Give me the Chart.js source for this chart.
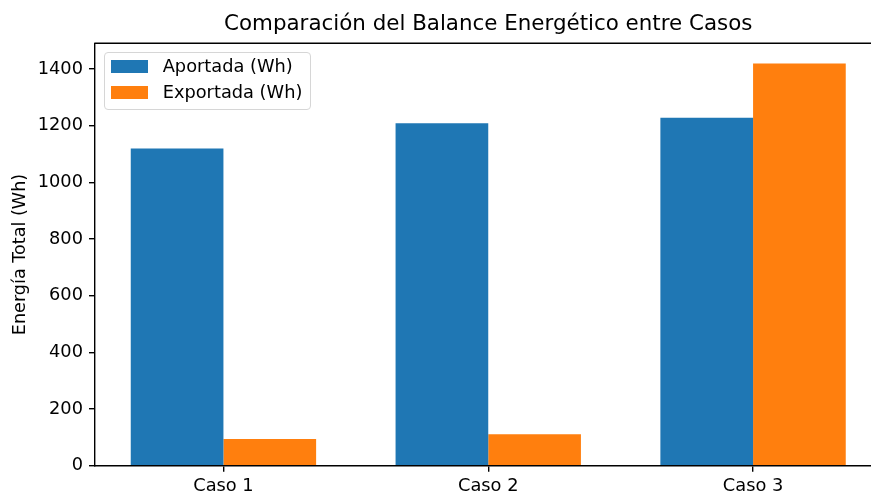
<!DOCTYPE html>
<html lang="es">
<head>
<meta charset="utf-8">
<title>Balance Energético</title>
<script src="https://cdn.jsdelivr.net/npm/chart.js@4.4.1/dist/chart.umd.min.js"></script>
<style>
    html, body { margin: 0; padding: 0; background: #fff; overflow: hidden; }
    #wrap { position: relative; width: 871px; height: 494px; overflow: hidden; }
    #box { position: absolute; left: 0; top: 0; width: 890px; height: 494px; }
    #leyenda {
        position: absolute; left: 104px; top: 52px; width: 207px; height: 58px;
        box-sizing: border-box; border: 1px solid #d6d6d6; border-radius: 4px;
        background: rgba(255, 255, 255, 0.8);
        font-family: 'DejaVu Sans', sans-serif; font-size: 17.8px; color: #000;
    }
    #leyenda .sw { position: absolute; left: 6px; width: 37px; height: 12.6px; }
    #leyenda .tx { position: absolute; left: 57.7px; line-height: 20px; white-space: nowrap; }
</style>
</head>
<body>
<div id="wrap">
    <div id="box"><canvas id="balanceChart"></canvas></div>
    <div id="leyenda"></div>
</div>
<script>
// Datos por caso
const casos = ['Caso 1', 'Caso 2', 'Caso 3'];
const posiciones = [0, 1, 2];
const aportada = [1120, 1209, 1228];
const exportada = [94, 111, 1420];
const ticksY = [0, 200, 400, 600, 800, 1000, 1200, 1400];

const FONT = 'DejaVu Sans';
const azul = '#1f77b4';
const naranja = '#ff7f0e';

// Marco superior del área de dibujo
const bordeSuperior = {
    id: 'bordeSuperior',
    afterDraw(chart) {
        const { ctx, chartArea } = chart;
        ctx.save();
        ctx.strokeStyle = '#000';
        ctx.lineWidth = 1.4;
        ctx.beginPath();
        ctx.moveTo(chartArea.left - 0.7, chartArea.top);
        ctx.lineTo(chartArea.right, chartArea.top);
        ctx.stroke();
        ctx.restore();
    }
};

const ctx = document.getElementById('balanceChart');
const chart = new Chart(ctx, {
    type: 'bar',
    data: {
        datasets: [
            {
                label: 'Aportada (Wh)',
                data: aportada.map((v, i) => ({ x: posiciones[i], y: v })),
                backgroundColor: azul,
                xAxisID: 'x', yAxisID: 'y'
            },
            {
                label: 'Exportada (Wh)',
                data: exportada.map((v, i) => ({ x: posiciones[i], y: v })),
                backgroundColor: naranja,
                xAxisID: 'x', yAxisID: 'y'
            }
        ]
    },
    options: {
        responsive: true,
        maintainAspectRatio: false,
        animation: false,
        categoryPercentage: 0.7,
        barPercentage: 1.0,
        layout: { padding: { left: 7, right: 8.5, top: 0, bottom: 0 } },
        plugins: {
            legend: { display: false },
            tooltip: { enabled: false },
            title: {
                display: true,
                fullSize: false,
                text: 'Comparación del Balance Energético entre Casos',
                color: '#000',
                font: { family: FONT, size: 21.4, weight: 'normal' },
                padding: { top: 11.5, bottom: 6.1 }
            }
        },
        scales: {
            x: {
                type: 'linear',
                min: -0.485,
                max: 2.485,
                offset: false,
                afterBuildTicks: (scale) => { scale.ticks = posiciones.map(v => ({ value: v })); },
                afterFit: (scale) => { scale.height = 28.3; },
                ticks: {
                    color: '#000',
                    padding: 4,
                    maxRotation: 0,
                    autoSkip: false,
                    font: { family: FONT, size: 17.8 },
                    callback: (v) => casos[posiciones.indexOf(v)] || ''
                },
                grid: { offset: false, drawOnChartArea: false, drawTicks: true, tickLength: 6, color: '#000', lineWidth: 1.4 },
                border: { display: true, color: '#000', width: 1.4 }
            },
            y: {
                min: 0,
                max: 1491,
                afterBuildTicks: (scale) => { scale.ticks = ticksY.map(v => ({ value: v })); },
                afterFit: (scale) => { scale.width = 88; },
                ticks: {
                    color: '#000',
                    padding: 6,
                    font: { family: FONT, size: 17.8 },
                    callback: (v) => String(v)
                },
                grid: { drawOnChartArea: false, drawTicks: true, tickLength: 6, color: '#000', lineWidth: 1.4 },
                border: { display: true, color: '#000', width: 1.4 },
                title: {
                    display: true,
                    text: 'Energía Total (Wh)',
                    color: '#000',
                    font: { family: FONT, size: 17.6 },
                    padding: { top: 2.5, bottom: 0 }
                }
            }
        }
    },
    plugins: [bordeSuperior]
});

// Leyenda en HTML a partir de las series
const leyenda = document.getElementById('leyenda');
chart.data.datasets.forEach((ds, i) => {
    const sw = document.createElement('span');
    sw.className = 'sw';
    sw.style.top = (7.4 + i * 25.8) + 'px';
    sw.style.background = ds.backgroundColor;
    const tx = document.createElement('span');
    tx.className = 'tx';
    tx.style.top = (3 + i * 25.8) + 'px';
    tx.textContent = ds.label;
    leyenda.appendChild(sw);
    leyenda.appendChild(tx);
});
</script>
</body>
</html>
